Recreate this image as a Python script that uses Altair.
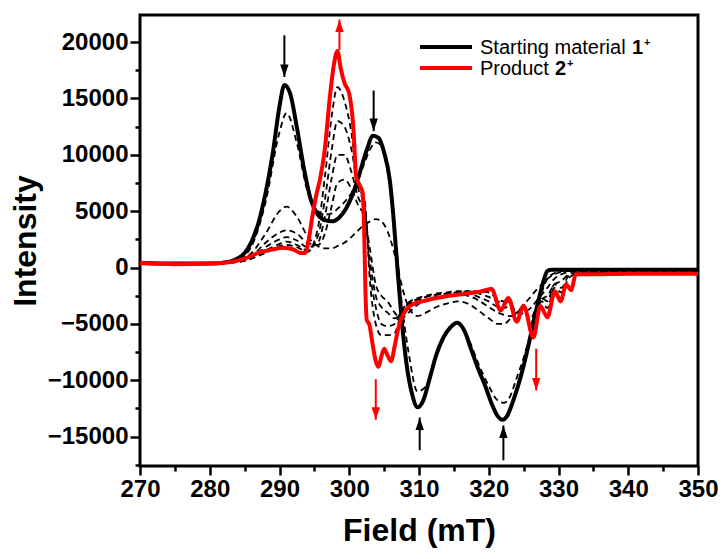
import altair as alt
import pandas as pd

# ---------------- data ----------------
black_x = [270, 275, 280, 283, 284, 285, 286, 287, 288, 289, 290, 290.7, 291.5, 292.5, 293.5,
           294.5, 295.5, 296.5, 297.5, 298.5, 299.5, 300.5, 301.5, 302.5, 303.4, 304.2, 305,
           305.8, 306.4, 306.9, 307.5, 308.2, 309, 309.8, 310.6, 311.5, 312.5, 313.5, 314.5,
           315.5, 316.5, 317.5, 318.5, 319.5, 320.5, 321.3, 322, 322.6, 323.4, 324.2, 325,
           325.8, 326.6, 327.3, 327.9, 328.4, 329, 332, 340, 350]
black_y = [400, 350, 350, 550, 800, 1300, 2300, 4000, 6600, 10000, 14300, 16200, 15500, 12400, 8800,
           6000, 4700, 4200, 4100, 4400, 5200, 6500, 8400, 10400, 11700, 11500, 10200,
           7800, 4000, 0, -4500, -8500, -11200, -12400, -11800, -9900, -7700, -6200, -5300,
           -4900, -5600, -7300, -9000, -10500, -12200, -13200, -13500, -13200, -12000, -10500, -8700,
           -6600, -4300, -2500, -1100, -300, -200, -200, -200, -200]

red_x = [270, 275, 280, 283, 285, 287, 289, 290.5, 292, 293, 293.7, 294.2, 294.7, 295.3, 295.8,
         296.5, 297.2, 297.8, 298.3, 298.8, 299.3, 300, 300.6, 301, 301.5, 301.9, 302.15, 302.3,
         302.5, 302.9, 303.3, 303.8, 304.2, 304.6, 305, 305.5, 306, 306.5, 307, 307.5, 308.2,
         309.3, 310.5, 312.5, 314.3, 316.8, 319, 320.4, 321.7, 322.8, 324, 325, 326.4, 327.4,
         328.4, 329.5, 330.3, 331.1, 331.8, 332.5, 335, 340, 345, 350]
red_y = [400, 300, 350, 500, 800, 1300, 1600, 1750, 1600, 1300, 1300, 2500, 4500, 6500, 7800,
         10500, 15000, 18000, 19200, 17600, 16400, 15400, 12300, 8000, 7300, 6700, 3000, -1500,
         -4600, -5100, -6600, -8300, -8800, -7900, -7200, -7800, -8300, -7000, -5500, -4500, -3700,
         -3200, -3000, -2700, -2500, -2300, -2100, -1900, -3800, -2700, -4800, -3400, -6200, -3400,
         -4400, -2100, -3000, -1500, -2000, -600, -600, -550, -550, -550]

dash_x = [270, 280, 284, 286, 288, 290, 291, 292.5, 294, 295.5, 296.5, 297.5, 298.3, 299.3, 300.3,
          301.3, 302.2, 303, 303.8, 304.6, 305.5, 306.5, 307.5, 308.5, 309.8, 311, 312.5, 314,
          315.5, 317, 318.5, 320, 321.3, 322.2, 323, 324, 325, 326, 326.8, 327.6, 328.4, 329.4,
          330.4, 331.5, 333, 340, 350]
dash_1 = [400, 350, 700, 1900, 5800, 12000, 13700, 11000, 6800, 5000, 4700, 4800, 5200, 5800, 6600,
          7800, 9300, 10500, 11100, 10800, 8500, 3500, -3000, -7500, -11000, -10500, -7800, -5800,
          -5000, -6200, -8500, -10500, -11800, -12000, -11500, -9800, -8000, -5800, -3800, -2200,
          -1000, -500, -300, -250, -200, -200, -200]
dash_2 = [400, 350, 600, 1300, 3000, 5000, 5400, 4500, 2800, 1900, 1700, 1700, 1900, 2200, 2700,
          3300, 3800, 4100, 4300, 4100, 3200, 1200, -1500, -3500, -4300, -4000, -3500, -3200,
          -3000, -3200, -3800, -4500, -5000, -5000, -4600, -4000, -3300, -2600, -2000, -1500,
          -1000, -600, -400, -300, -250, -200, -200]
dash_3 = [400, 350, 550, 1000, 2200, 3100, 3300, 3000, 2200, 2000, 3000, 5500, 7500, 7800, 7000,
          5500, 4500, 1500, -1500, -2500, -3000, -4000, -4500, -4000, -3300, -2900, -2600, -2500,
          -2400, -2500, -2900, -3500, -4000, -4200, -4300, -4300, -4000, -3600, -3000, -2400,
          -1800, -1000, -600, -400, -300, -250, -250]
dash_4 = [400, 350, 500, 900, 1800, 2500, 2700, 2400, 1800, 2200, 4500, 8000, 10000, 10000, 8500,
          6200, 5000, 500, -2500, -3500, -4000, -4500, -4000, -3300, -2900, -2600, -2400, -2300,
          -2200, -2300, -2600, -3000, -3500, -3600, -3400, -4000, -3700, -4500, -3600, -2800,
          -2500, -1500, -1200, -600, -400, -300, -300]
dash_5 = [400, 350, 500, 800, 1500, 2100, 2300, 2000, 1500, 2800, 6000, 10500, 13000, 12500, 10500,
          7000, 5500, -500, -3500, -5000, -5200, -5000, -3800, -3100, -2700, -2500, -2300, -2200,
          -2100, -2100, -2300, -2600, -3000, -3200, -3000, -4000, -3400, -5000, -3800, -2700,
          -3000, -1500, -1800, -700, -450, -400, -400]
dash_6 = [400, 350, 500, 800, 1300, 1900, 2000, 1800, 1400, 3500, 8000, 13500, 16000, 14800, 12000,
          7200, 6000, -1500, -5000, -6000, -6000, -5800, -4000, -3200, -2800, -2600, -2400, -2300,
          -2200, -2100, -2100, -2200, -2800, -3000, -2800, -4300, -3300, -5300, -4000, -3000,
          -3600, -1800, -2200, -900, -500, -450, -450]

arrow_field = [290.7, 303.5, 298.6, 310.1, 322.1, 303.8, 326.8]
arrow_from = [20600, 15700, 19300, -16200, -17100, -9900, -7200]
arrow_to = [16900, 12100, 22000, -13300, -14000, -13500, -10900]
arrow_color = ["black", "black", "red", "black", "black", "red", "red"]

x_ticks = list(range(270, 351, 5))
y_ticks = list(range(-17500, 20001, 2500))

legend_text = ["Starting material", "Product"]
legend_num = ["1", "2"]
legend_color = ["black", "red"]

# ---------------- tables ----------------
black_df = pd.DataFrame({"field": black_x, "intensity": black_y})
red_df = pd.DataFrame({"field": red_x, "intensity": red_y})
dash_rows = []
for i, ys in enumerate([dash_1, dash_2, dash_3, dash_4, dash_5, dash_6]):
    for fx, fy in zip(dash_x, ys):
        dash_rows.append({"field": fx, "intensity": fy, "run": f"d{i}"})
dash_df = pd.DataFrame(dash_rows)
arrow_df = pd.DataFrame({
    "field": arrow_field, "intensity": arrow_from, "y1": arrow_to, "color": arrow_color,
})
head_df = pd.DataFrame({
    "field": arrow_field, "intensity": arrow_to, "color": arrow_color,
    "dir": ["down" if t < f else "up" for f, t in zip(arrow_from, arrow_to)],
})

FONT = "Liberation Sans"
XDOM = [270, 350]
YDOM = [-17600, 22400]

xax = alt.Axis(
    values=x_ticks, format="d",
    labelExpr="abs(datum.value) % 10 < 0.5 ? datum.label : ''",
    tickSize={"condition": {"test": "abs(datum.value) % 10 < 0.5", "value": 9}, "value": 5},
    tickWidth=2.5, tickColor="black", domain=False, grid=False,
    labelFont=FONT, labelFontSize=24, labelFontWeight="bold", labelColor="black",
    labelPadding=2, labelOverlap=False, labelFlush=False,
    title="Field (mT)", titleFont=FONT, titleFontSize=32, titleFontWeight="bold",
    titleColor="black", titlePadding=14,
)
yax = alt.Axis(
    values=y_ticks, format="d",
    labelExpr="abs(datum.value) % 5000 < 1 ? datum.label : ''",
    tickSize={"condition": {"test": "abs(datum.value) % 5000 < 1", "value": 10}, "value": 5},
    tickWidth=2.5, tickColor="black", domain=False, grid=False,
    labelFont=FONT, labelFontSize=24, labelFontWeight="bold", labelColor="black",
    labelPadding=2, labelOverlap=False, labelFlush=False,
    title="Intensity", titleFont=FONT, titleFontSize=32, titleFontWeight="bold",
    titleColor="black", titlePadding=5,
)
xs = alt.Scale(domain=XDOM, nice=False, zero=False)
ys_ = alt.Scale(domain=YDOM, nice=False, zero=False)


def X():
    return alt.X("field:Q", scale=xs, axis=xax)


def Y():
    return alt.Y("intensity:Q", scale=ys_, axis=yax)


dashed = alt.Chart(dash_df).mark_line(
    color="black", strokeWidth=1.8, strokeDash=[6, 4], interpolate="monotone"
).encode(x=X(), y=Y(), detail="run:N")
black = alt.Chart(black_df).mark_line(
    color="black", strokeWidth=4, interpolate="monotone"
).encode(x=X(), y=Y())
red = alt.Chart(red_df).mark_line(
    color="#ff0000", strokeWidth=4, interpolate="monotone"
).encode(x=X(), y=Y())

shafts = alt.Chart(arrow_df).mark_rule(strokeWidth=2).encode(
    x=X(), y=Y(), y2="y1:Q",
    color=alt.Color("color:N", scale=None),
)
DOWN = "M-1,-3L1,-3L0,0Z"
UP = "M-1,3L1,3L0,0Z"
heads = alt.Chart(head_df).mark_point(filled=True, opacity=1, size=70, strokeWidth=0).encode(
    x=X(), y=Y(),
    color=alt.Color("color:N", scale=None),
    shape=alt.Shape("dir:N", scale=alt.Scale(domain=["down", "up"], range=[DOWN, UP]), legend=None),
)

# ---------------- manual legend ----------------
leg_df = pd.DataFrame({"label": legend_text, "num": legend_num, "color": legend_color})
layers = [dashed, black, red, shafts, heads]
row_y = [32, 53]
num_dx = [152, 75]
for i in range(2):
    d = leg_df.iloc[[i]]
    base = alt.Chart(d)
    layers.append(base.mark_rule(strokeWidth=4).encode(
        x=alt.value(280), x2=alt.value(332), y=alt.value(row_y[i]),
        color=alt.Color("color:N", scale=None)))
    layers.append(base.mark_text(align="left", baseline="middle", font=FONT, fontSize=20,
                                 color="black").encode(
        x=alt.value(340), y=alt.value(row_y[i] + 1), text="label:N"))
    layers.append(base.mark_text(align="left", baseline="middle", font=FONT, fontSize=20,
                                 fontWeight="bold", color="black", dx=num_dx[i]).encode(
        x=alt.value(340), y=alt.value(row_y[i] + 1), text="num:N"))
    layers.append(base.mark_text(align="left", baseline="middle", font=FONT, fontSize=11,
                                 fontWeight="bold", color="black", dx=num_dx[i] + 12, dy=-5).encode(
        x=alt.value(340), y=alt.value(row_y[i] + 1), text=alt.value("+")))

chart = alt.layer(*layers).properties(
    width=558, height=451,
    padding={"left": 140, "top": 15, "right": 25, "bottom": 93},
    autosize=alt.AutoSizeParams(type="none"),
    background="white",
).configure_view(stroke="black", strokeWidth=3)

chart.save("out.html", embed_options={"renderer": "svg", "actions": False})
